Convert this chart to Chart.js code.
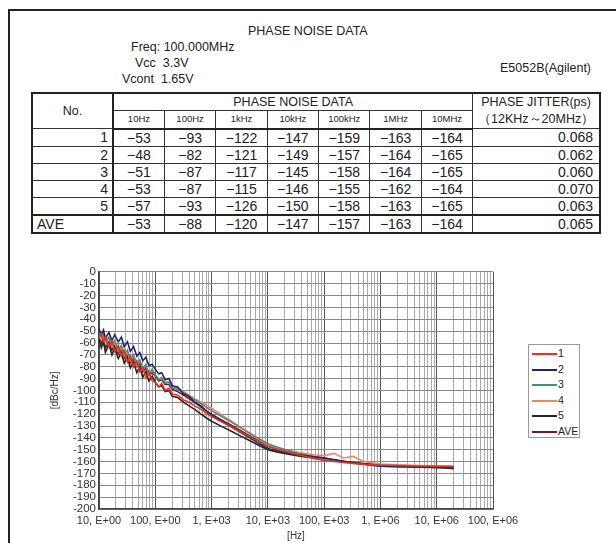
<!DOCTYPE html>
<html>
<head>
<meta charset="utf-8">
<title>Phase Noise Data</title>
<script src="https://cdn.jsdelivr.net/npm/chart.js@4.4.1/dist/chart.umd.min.js"></script>
<style>
  html, body { margin: 0; padding: 0; background: #fff; }
  body {
    width: 616px; height: 543px; position: relative; overflow: hidden;
    font-family: "Liberation Sans", Arial, sans-serif; color: #222;
  }
  .frame {
    position: absolute; left: 8px; top: 9px; width: 700px; height: 600px;
    border-left: 2px solid #222; border-top: 2px solid #222;
  }
  .txt { position: absolute; white-space: nowrap; font-size: 12.5px; line-height: 14px; }

  #pnTable {
    position: absolute; left: 31px; top: 92px;
    border-collapse: collapse; table-layout: fixed; width: 570px;
    border: 2px solid #222;
  }
  #pnTable td {
    border: 1px solid #333; padding: 0 4px; height: 16px;
    font-size: 14px; line-height: 16px; text-align: center; white-space: nowrap; overflow: hidden;
  }
  #pnTable td.no { text-align: right; border-right: 2px solid #222; }
  #pnTable td.ave { text-align: left; }
  #pnTable td.jit { text-align: right; padding-right: 6px; }
  #pnTable td.hd { font-size: 12.5px; }
  #pnTable td.sub { font-size: 9.5px; }
  #pnTable tr.head2 td { border-bottom: 2px solid #222; }
  #pnTable tr.aveRow td { border-top: 2px solid #222; }

  #chartBox { position: absolute; left: 30px; top: 262px; width: 530px; height: 281px; }
  #legend {
    position: absolute; left: 528px; top: 344px; width: 50px; height: 92px;
    border: 1px solid #999; background: #fff; font-size: 10.5px;
    font-family: "Liberation Sans Narrow", "Liberation Sans", sans-serif;
  }
  #legend .item { position: absolute; left: 3px; height: 12px; }
  #legend .line { position: absolute; left: 0; top: 6px; width: 25px; height: 2px; }
  #legend .lab { position: absolute; left: 26px; top: 0; line-height: 12px; }
</style>
</head>
<body>
<div class="frame"></div>

<div class="txt" style="left:248px; top:24px;">PHASE NOISE DATA</div>
<div class="txt" style="left:131px; top:40px;">Freq: 100.000MHz</div>
<div class="txt" style="left:135px; top:56px;">Vcc&nbsp;&nbsp;3.3V</div>
<div class="txt" style="left:122px; top:72px;">Vcont&nbsp;&nbsp;1.65V</div>
<div class="txt" style="left:500px; top:61px;">E5052B(Agilent)</div>

<table id="pnTable"></table>

<div id="chartBox"><canvas id="noiseChart" width="530" height="281"></canvas></div>
<div id="legend"></div>

<script>
// ---- table data ----
const tableFreqs = ["10Hz", "100Hz", "1kHz", "10kHz", "100kHz", "1MHz", "10MHz"];
const rowLabels = ["1", "2", "3", "4", "5", "AVE"];
const noiseRow1 = [-53, -93, -122, -147, -159, -163, -164];
const noiseRow2 = [-48, -82, -121, -149, -157, -164, -165];
const noiseRow3 = [-51, -87, -117, -145, -158, -164, -165];
const noiseRow4 = [-53, -87, -115, -146, -155, -162, -164];
const noiseRow5 = [-57, -93, -126, -150, -158, -163, -165];
const noiseRowAve = [-53, -88, -120, -147, -157, -163, -164];
const jitterPs = ["0.068", "0.062", "0.060", "0.070", "0.063", "0.065"];

// ---- chart data ----
const freqs = [10, 11, 12, 13, 15, 17, 19, 22, 25, 28, 32, 36, 41, 47, 53, 60, 68, 77, 88, 100,
  115, 130, 150, 175, 200, 250, 320, 400, 500, 650, 800, 1000,
  1500, 2200, 3300, 5000, 7000, 10000, 15000, 22000, 33000, 50000, 70000, 100000,
  150000, 220000, 330000, 500000, 1000000, 2000000, 5000000, 10000000, 20000000];

const series1 = [-55, -52, -58, -55, -63, -58, -67, -62, -71, -66, -76, -71, -80, -75, -84, -81, -89, -84, -92, -93,
  -97, -94, -100, -98, -103, -104, -108, -110, -113, -116, -119, -122,
  -126.5, -130.5, -135, -139.5, -143.2, -147, -149.8, -152, -154, -156, -157.5, -159,
  -160, -160.8, -161.5, -162.2, -163, -163.3, -163.7, -164, -164.2];
const series2 = [-48, -53, -49, -56, -51, -58, -53, -59, -55, -63, -59, -67, -63, -71, -68, -75, -72, -79, -78, -82,
  -86, -85, -91, -90, -96, -97, -103, -105, -110, -113, -117, -121,
  -126, -130.5, -135.6, -140.6, -144.8, -149, -151, -152.5, -154, -155.2, -156.2, -157,
  -158.5, -159.8, -161, -162.3, -164, -164.4, -164.8, -165, -165];
const series3 = [-52, -55, -52, -58, -55, -62, -58, -66, -62, -70, -66, -74, -70, -78, -74, -82, -78, -86, -82, -87,
  -91, -89, -94, -93, -98, -99, -102, -105, -108, -111, -114, -117,
  -122, -126.5, -131.6, -136.6, -140.8, -145, -148, -150.5, -153, -155, -156.6, -158,
  -159.2, -160.3, -161.3, -162.3, -164, -164.3, -164.7, -165, -165];
const series4 = [-54, -57, -54, -60, -56, -63, -60, -67, -64, -71, -68, -75, -71, -79, -75, -82, -79, -86, -83, -87,
  -90, -90, -93, -93, -97, -98, -101, -104, -107, -110, -112, -115,
  -120.6, -125.5, -131.1, -136.7, -141.4, -146, -148.5, -150.3, -152, -153.5, -154.5, -155,
  -153, -157, -155.5, -160, -162, -162.8, -163.4, -164, -164];
const series5 = [-57, -64, -59, -68, -61, -70, -64, -73, -68, -77, -72, -81, -76, -85, -80, -89, -84, -92, -88, -93,
  -97, -96, -101, -100, -105, -106, -110, -113, -116, -120, -123, -126,
  -130.3, -134.2, -138.5, -142.8, -146.4, -150, -152, -153.5, -155, -156.3, -157.2, -158,
  -159, -160, -160.8, -161.6, -163, -163.7, -164.3, -165, -166];
const seriesAve = [-55, -60, -56, -64, -59, -66, -62, -69, -65, -73, -69, -77, -73, -80, -77, -84, -81, -87, -85, -88,
  -92, -91, -95, -95, -99, -101, -104, -107, -110, -114, -117, -120,
  -124.8, -129.2, -134, -138.9, -142.9, -147, -149.5, -151.5, -153.3, -154.8, -156, -157,
  -158.5, -159.8, -160.8, -161.8, -163, -163.4, -163.7, -164, -164.2];

const seriesNames = ["1", "2", "3", "4", "5", "AVE"];
const seriesColors = ["#e8341c", "#1b2870", "#4d8c78", "#f38468", "#262626", "#6b1d33"];

const xDecades = [10, 100, 1e3, 1e4, 1e5, 1e6, 1e7, 1e8];
const xTickLabels = ["10, E+00", "100, E+00", "1, E+03", "10, E+03", "100, E+03", "1, E+06", "10, E+06", "100, E+06"];
const yMin = -200;
const yMax = 0;
const yStep = 10;

/* =========================================
   TABLE
========================================= */
function fmtNeg(v) {
  return String(v).replace("-", "\u2212");
}

function buildTable() {
  const table = document.getElementById("pnTable");
  const rows = [noiseRow1, noiseRow2, noiseRow3, noiseRow4, noiseRow5, noiseRowAve];

  let html = `<colgroup><col style="width:81px">`;
  tableFreqs.forEach(() => { html += `<col style="width:51.4px">`; });
  html += `<col></colgroup>`;

  html += `<tr><td class="no hd" rowspan="2" style="text-align:center">No.</td>
    <td class="hd" colspan="${tableFreqs.length}">PHASE NOISE DATA</td>
    <td class="hd" rowspan="2" style="line-height:17px">PHASE JITTER(ps)<br>（12KHz～20MHz）</td></tr>`;

  html += `<tr class="head2">`;
  tableFreqs.forEach(f => { html += `<td class="sub">${f}</td>`; });
  html += `</tr>`;

  rows.forEach((row, i) => {
    const isAve = rowLabels[i] === "AVE";
    html += `<tr class="${isAve ? "aveRow" : ""}">`;
    html += `<td class="no${isAve ? " ave" : ""}">${rowLabels[i]}</td>`;
    row.forEach(v => { html += `<td>${fmtNeg(v)}</td>`; });
    html += `<td class="jit">${jitterPs[i]}</td></tr>`;
  });

  table.innerHTML = html;
}

/* =========================================
   LEGEND
========================================= */
function buildLegend() {
  const legend = document.getElementById("legend");
  seriesNames.forEach((name, i) => {
    const item = document.createElement("div");
    item.className = "item";
    item.style.top = (2 + i * 15.5) + "px";
    item.innerHTML = `<span class="line" style="background:${seriesColors[i]}"></span><span class="lab">${name}</span>`;
    legend.appendChild(item);
  });
}

/* =========================================
   CHART
========================================= */
function renderChart() {
  const allSeries = [series1, series2, series3, series4, series5, seriesAve];

  const datasets = allSeries.map((vals, i) => ({
    label: seriesNames[i],
    data: vals.map((y, k) => ({ x: freqs[k], y })),
    borderColor: seriesColors[i],
    backgroundColor: seriesColors[i],
    borderWidth: 1.6,
    pointRadius: 0,
    tension: 0,
    fill: false
  }));

  const isDecade = v => Math.abs(Math.log10(v) - Math.round(Math.log10(v))) < 1e-9;

  new Chart(document.getElementById("noiseChart").getContext("2d"), {
    type: "line",
    data: { datasets },
    options: {
      responsive: false,
      animation: false,
      layout: { padding: { top: 9, right: 67, left: 0, bottom: 0 } },
      plugins: {
        legend: { display: false },
        tooltip: { enabled: false }
      },
      scales: {
        x: {
          type: "logarithmic",
          min: xDecades[0],
          max: xDecades[xDecades.length - 1],
          afterBuildTicks: scale => {
            const ticks = [];
            xDecades.forEach((d, i) => {
              if (i < xDecades.length - 1) {
                for (let m = 1; m < 10; m++) ticks.push({ value: d * m });
              } else {
                ticks.push({ value: d });
              }
            });
            scale.ticks = ticks;
          },
          afterFit: scale => { scale.height = 34; },
          ticks: {
            autoSkip: false,
            maxRotation: 0,
            padding: 5,
            color: "#333",
            font: { family: "'Liberation Sans Narrow', 'Liberation Sans', sans-serif", size: 11 },
            callback: value => {
              const i = xDecades.indexOf(value);
              return i >= 0 ? xTickLabels[i] : "";
            }
          },
          grid: {
            drawTicks: false,
            color: ctx => (ctx.tick && isDecade(ctx.tick.value) ? "#555" : "#aaa"),
            lineWidth: 1
          },
          border: { color: "#444", width: 1.5 },
          title: {
            display: true,
            text: "[Hz]",
            color: "#333",
            padding: { top: 0, bottom: 1 },
            font: { family: "'Liberation Sans Narrow', 'Liberation Sans', sans-serif", size: 10 }
          }
        },
        y: {
          min: yMin,
          max: yMax,
          afterFit: scale => { scale.width = 69; },
          ticks: {
            stepSize: yStep,
            autoSkip: false,
            padding: 3,
            color: "#333",
            font: { family: "'Liberation Sans Narrow', 'Liberation Sans', sans-serif", size: 11.5 }
          },
          grid: { drawTicks: false, color: "#888", lineWidth: 1 },
          border: { color: "#444", width: 1.5 },
          title: {
            display: true,
            text: "[dBc/Hz]",
            color: "#333",
            padding: { top: 19, bottom: 0 },
            font: { family: "'Liberation Sans Narrow', 'Liberation Sans', sans-serif", size: 10 }
          }
        }
      }
    }
  });
}

document.addEventListener("DOMContentLoaded", () => {
  buildTable();
  buildLegend();
  renderChart();
});
</script>
</body>
</html>
